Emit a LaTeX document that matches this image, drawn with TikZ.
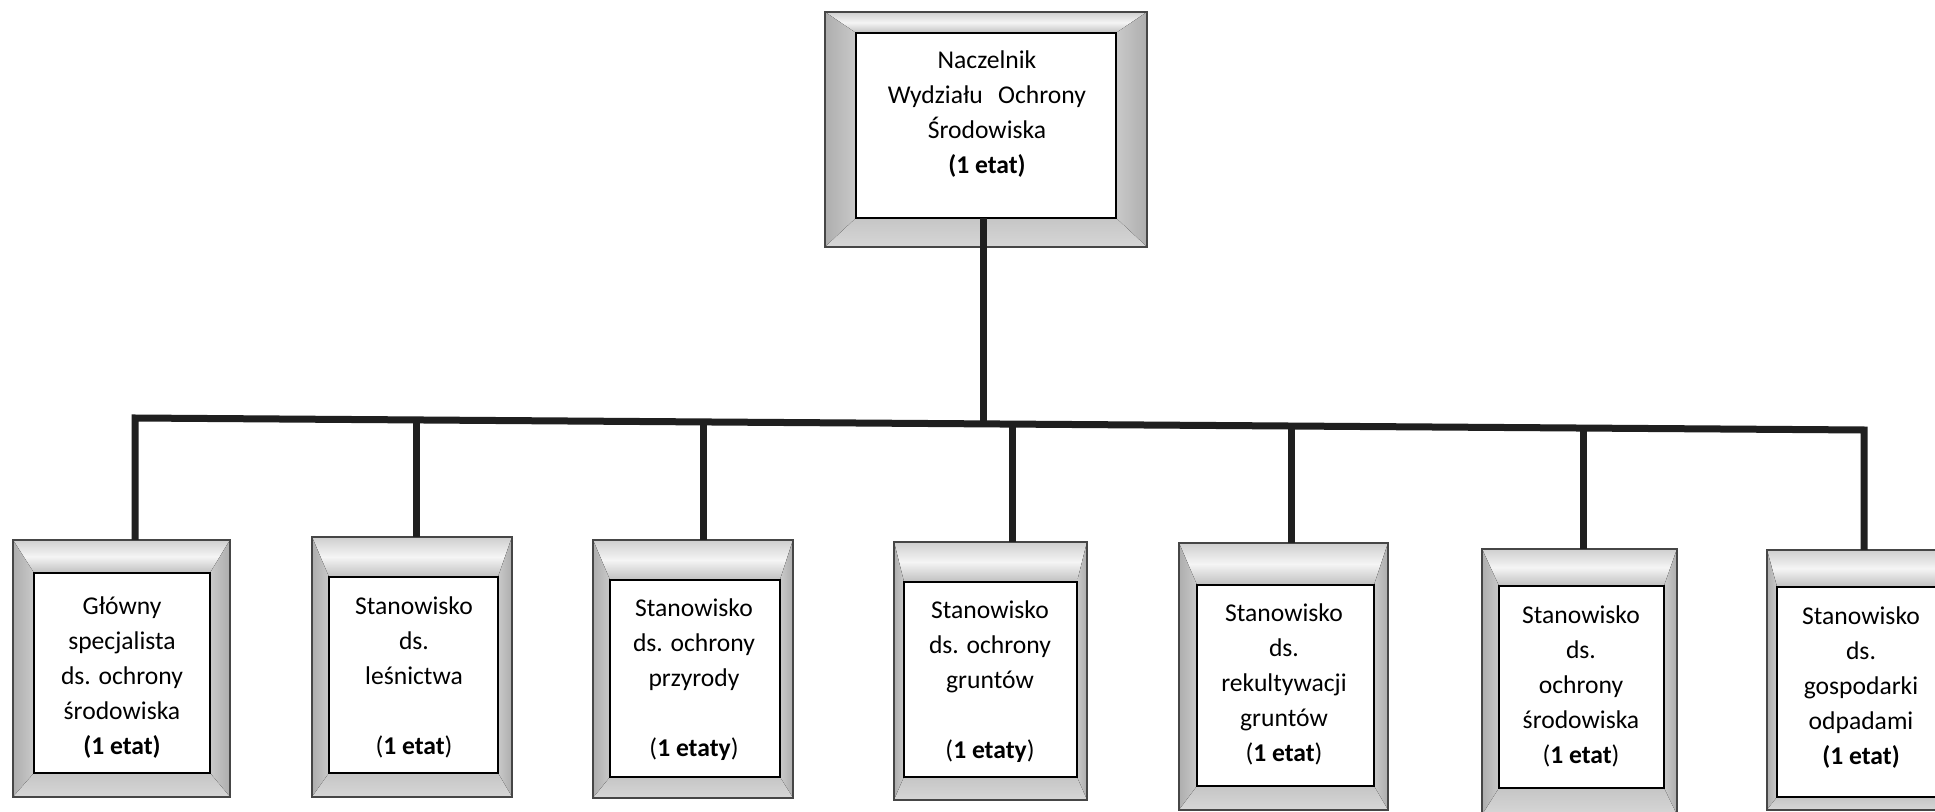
\documentclass[tikz,border=0pt]{standalone}
\usepackage{fontspec}
\setmainfont{Carlito}
\pgfdeclarelayer{bg}
\pgfsetlayers{bg,main}
\tikzset{
  frame/.style={inner sep=0pt, outer sep=0pt, draw=none},
  card/.style={draw=black, line width=1pt, fill=white, inner sep=0pt, outer sep=0pt},
  lbl/.style={align=center, font=\fontsize{12.8}{17.5}\selectfont, inner sep=0pt},
  wire/.style={line width=3.5pt, draw=black!88},
  bevtop/.style={top color=gray!38, bottom color=gray!50, middle color=gray!8},
  bevleft/.style={left color=gray!64, right color=gray!42},
  bevright/.style={left color=gray!42, right color=gray!64},
  bevbottom/.style={top color=gray!45, bottom color=gray!32},
  rim/.style={draw=gray!55!black, line width=0.7pt},
}
\newcommand\orgbox[9]{%
  \node[frame, minimum width={(#4-#2)*0.5pt}, minimum height={(#5-#3)*0.5pt}] (o#1) at ({(#2+#4)/2},{(#3+#5)/2}) {};
  \node[card, minimum width={(#8-#6)*0.5pt}, minimum height={(#9-#7)*0.5pt}] (b#1) at ({(#6+#8)/2},{(#7+#9)/2}) {};
  \begin{pgfonlayer}{bg}
    \fill[bevtop] (o#1.north west) -- (o#1.north east) -- (b#1.north east) -- (b#1.north west) -- cycle;
    \fill[bevleft] (o#1.north west) -- (b#1.north west) -- (b#1.south west) -- (o#1.south west) -- cycle;
    \fill[bevright] (o#1.north east) -- (b#1.north east) -- (b#1.south east) -- (o#1.south east) -- cycle;
    \fill[bevbottom] (o#1.south west) -- (b#1.south west) -- (b#1.south east) -- (o#1.south east) -- cycle;
    \draw[rim] (o#1.north west) rectangle (o#1.south east);
  \end{pgfonlayer}
}
\begin{document}
\begin{tikzpicture}[x=0.5pt, y=-0.5pt]
\useasboundingbox (0,0) rectangle (1935,812);
\begin{pgfonlayer}{bg}
  \fill[white] (0,0) rectangle (1935,812);
\end{pgfonlayer}
\clip (0,0) rectangle (1935,812);

% boxes: name, outer l t r b, inner l t r b
\orgbox{0}{825}{12}{1147}{247}{856}{33}{1116}{218}
\orgbox{1}{13}{540}{230}{797}{34}{573}{210}{773}
\orgbox{2}{312}{537}{512}{797}{329}{577}{498}{773}
\orgbox{3}{593}{540}{793}{798}{610}{580}{780}{777}
\orgbox{4}{894}{542}{1087}{800}{904}{582}{1077}{777}
\orgbox{5}{1179}{543}{1388}{810}{1197}{585}{1374}{786}
\orgbox{6}{1482}{549}{1677}{815}{1499}{586}{1664}{788}
\orgbox{7}{1767}{550}{1962}{810}{1777}{587}{1950}{797}

% texts
\node[lbl] (t0) at (987,114) {Naczelnik\\Wydziału\hspace{0.6em}Ochrony\\Środowiska\\\textbf{(1 etat)}};
\node[lbl] (t1) at (122,677.5) {Główny\\specjalista\\ds. ochrony\\środowiska\\\textbf{(1 etat)}};
\node[lbl] (t2) at (414,677) {Stanowisko\\ds.\\leśnictwa\\~\\(\textbf{1 etat})};
\node[lbl] (t3) at (694,679.5) {Stanowisko\\ds. ochrony\\przyrody\\~\\(\textbf{1 etaty})};
\node[lbl] (t4) at (990,681.5) {Stanowisko\\ds. ochrony\\gruntów\\~\\(\textbf{1 etaty})};
\node[lbl] (t5) at (1284,684) {Stanowisko\\ds.\\rekultywacji\\gruntów\\(\textbf{1 etat})};
\node[lbl] (t6) at (1581,686) {Stanowisko\\ds.\\ochrony\\środowiska\\(\textbf{1 etat})};
\node[lbl] (t7) at (1861,687.5) {Stanowisko\\ds.\\gospodarki\\odpadami\\\textbf{(1 etat)}};

% bus junctions
\coordinate (j0) at (983,423.9);
\coordinate (j1) at (135,418);
\coordinate (j2) at (416,420);
\coordinate (j3) at (703,422);
\coordinate (j4) at (1012,424.1);
\coordinate (j5) at (1291,426);
\coordinate (j6) at (1583,428);
\coordinate (j7) at (1864,430);

% connectors
\draw[wire] (j0 |- b0.south) -- (j0);
\draw[wire, line join=miter] (j1 |- o1.north) -- (j1) -- (j7) -- (j7 |- o7.north);
\draw[wire] (j2) -- (j2 |- o2.north);
\draw[wire] (j3) -- (j3 |- o3.north);
\draw[wire] (j4) -- (j4 |- o4.north);
\draw[wire] (j5) -- (j5 |- o5.north);
\draw[wire] (j6) -- (j6 |- o6.north);
\end{tikzpicture}
\end{document}
